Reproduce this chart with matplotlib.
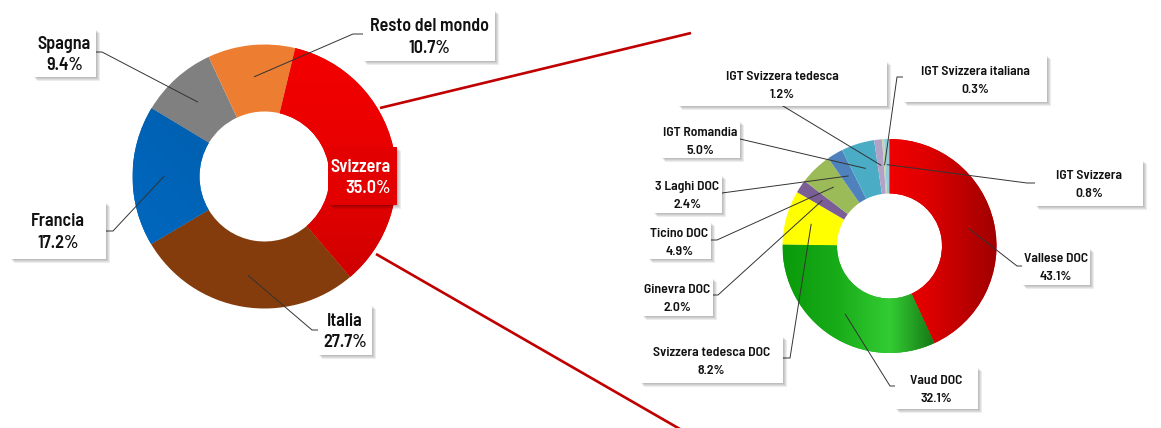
import numpy as np
import matplotlib.pyplot as plt
from matplotlib.patches import Rectangle
from matplotlib.colors import LinearSegmentedColormap

plt.rcParams['font.family'] = ['Barlow Semi Condensed', 'Roboto Condensed', 'Roboto', 'DejaVu Sans']

W, H = 1161, 428

# ---- dati: mercato dei vini ----
paesi = ["Svizzera", "Italia", "Francia", "Spagna", "Resto del mondo"]
quote_paesi = [35.0, 27.7, 17.2, 9.4, 10.7]
colori_paesi = ["#e60000", "#843c0c", "#0062b0", "#808080", "#ed7d31"]

categorie = ["Vallese DOC", "Vaud DOC", "Svizzera tedesca DOC", "Ginevra DOC",
             "Ticino DOC", "3 Laghi DOC", "IGT Romandia", "IGT Svizzera tedesca",
             "IGT Svizzera italiana", "IGT Svizzera"]
quote_cat = [43.1, 32.1, 8.2, 2.0, 4.9, 2.4, 5.0, 1.2, 0.3, 0.8]
colori_cat = ["#e00000", "#22b022", "#ffff00", "#7b5e96", "#9bbb59",
              "#4f81bd", "#4bacc6", "#b3a2c7", "#c3d69b", "#93cddd"]

# posizioni delle etichette (pixel immagine): box, punto di partenza, gomito
lay_paesi = {
    "Italia": ((318, 305, 372, 355), (318, 330), (312, 330)),
    "Francia": ((10, 202, 106, 259), (106, 231), (113, 231)),
    "Spagna": ((33, 29, 96, 77), (96, 52), (102, 52)),
    "Resto del mondo": ((363, 10, 495, 61), (363, 34), (353, 34)),
}
lay_cat = {
    "Vallese DOC": ((1022, 248, 1090, 285), (1022, 266), (1017, 266)),
    "Vaud DOC": ((895, 367, 978, 409), (895, 386), (890, 386)),
    "Svizzera tedesca DOC": ((640, 336, 783, 383), (783, 358), (790, 358)),
    "Ginevra DOC": ((642, 278, 713, 316), (713, 295), (718, 295)),
    "Ticino DOC": ((648, 222, 711, 259), (711, 240), (717, 240)),
    "3 Laghi DOC": ((653, 175, 722, 213), (722, 193), None),
    "IGT Romandia": ((661, 121, 740, 158), (740, 139), None),
    "IGT Svizzera tedesca": ((678, 61, 887, 106), (783, 106), None),
    "IGT Svizzera italiana": ((903, 55, 1047, 102), (903, 77), (897, 77)),
    "IGT Svizzera": ((1035, 160, 1143, 206), (1035, 183), (1027, 183)),
}


def Y(y):
    return H - y


fig = plt.figure(figsize=(W / 100, H / 100), dpi=100)
ax = fig.add_axes([0, 0, 1, 1])

c1, r1 = (264.5, Y(176.5)), 132
c2, r2 = (889.5, Y(246)), 107

w1, _ = ax.pie(quote_paesi, colors=colori_paesi, startangle=76.5, counterclock=False,
               radius=r1, center=c1, wedgeprops=dict(width=67, linewidth=0))
w2, _ = ax.pie(quote_cat, colors=colori_cat, startangle=90, counterclock=False,
               radius=r2, center=c2, wedgeprops=dict(width=54.5, linewidth=0))


def gradient(wedge, cols, center, r, mode):
    n = 200
    u = np.linspace(0, 1, n)
    if mode == "h":
        arr = np.tile(u, (n, 1))
    elif mode == "v":
        arr = np.tile(u[:, None], (1, n))
    else:
        arr = (np.tile(u, (n, 1)) + np.tile(u[:, None], (1, n))) / 2
    cmap = LinearSegmentedColormap.from_list("g", cols)
    im = ax.imshow(arr, cmap=cmap, extent=[center[0] - r, center[0] + r, center[1] - r, center[1] + r],
                   origin="lower", interpolation="bilinear", zorder=wedge.get_zorder() + 0.1)
    im.set_clip_path(wedge)


gradient(w1[0], ["#c80000", "#e60000", "#f40000"], c1, r1, "v")
gradient(w1[2], ["#006ac4", "#0060b0", "#004a88"], c1, r1, "d")
gradient(w2[0], ["#ff0000", "#ff0000", "#e00000", "#a00000"], c2, r2, "h")
gradient(w2[1], ["#0a9a0a", "#19ac19", "#33cc33", "#106610", "#002800"], c2, r2, "h")


def shadow(x0, y0, x1, y1):
    for k in range(1, 5):
        ax.add_patch(Rectangle((x0 + k, Y(y1 + k)), x1 - x0, y1 - y0, facecolor="black",
                               alpha=0.07, linewidth=0, zorder=4))


def label(box, lines, size, cap, gap, color="#111111", face="white", ha="center"):
    x0, y0, x1, y1 = box
    shadow(x0, y0, x1, y1)
    ax.add_patch(Rectangle((x0, Y(y1)), x1 - x0, y1 - y0, facecolor=face,
                           linewidth=0, zorder=5))
    cy = (y0 + y1) / 2
    b1 = cy + (cap - gap) / 2
    tx = (x0 + x1) / 2 if ha == "center" else x1 - 6
    for i, s in enumerate(lines):
        ax.text(tx, Y(b1 + i * gap), s, ha=ha, va="baseline", fontsize=size,
                fontweight="semibold", color=color, zorder=6)


def leader(wedge, center, r, start, elbow):
    th = np.deg2rad((wedge.theta1 + wedge.theta2) / 2)
    px = center[0] + 0.76 * r * np.cos(th)
    py = center[1] + 0.76 * r * np.sin(th)
    xs, ys = [start[0]], [Y(start[1])]
    if elbow is not None:
        xs.append(elbow[0])
        ys.append(Y(elbow[1]))
    xs.append(px)
    ys.append(py)
    ax.plot(xs, ys, color="#333333", lw=0.7, zorder=3)


# linee di zoom
ax.plot([380, 691], [Y(108), Y(33)], color="#c00000", lw=1.9, zorder=2, solid_capstyle="butt")
ax.plot([376, 692], [Y(254), Y(436)], color="#c00000", lw=1.9, zorder=2, solid_capstyle="butt")

for w, nome, q in zip(w1, paesi, quote_paesi):
    txt = [nome, f"{q:.1f}%"]
    if nome == "Svizzera":
        label((328, 147, 397, 205), txt, 13, 12.7, 21.3, color="white", face="#e20000", ha="right")
        continue
    box, st, el = lay_paesi[nome]
    leader(w, c1, r1, st, el)
    label(box, txt, 13, 12.7, 21.3)

for w, nome, q in zip(w2, categorie, quote_cat):
    box, st, el = lay_cat[nome]
    leader(w, c2, r2, st, el)
    label(box, [nome, f"{q:.1f}%"], 9.9, 10, 18)

ax.set_xlim(0, W)
ax.set_ylim(0, H)
ax.set_aspect("auto")
ax.axis("off")

fig.savefig("out.png", dpi=100)
